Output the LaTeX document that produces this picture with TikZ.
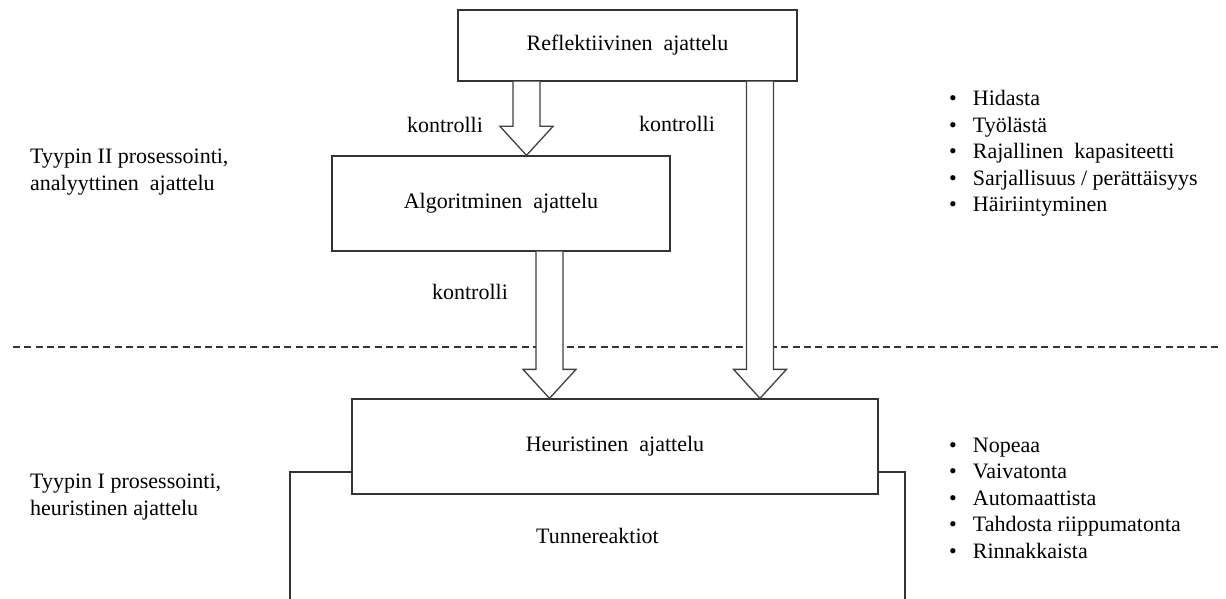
\documentclass[tikz,border=0pt]{standalone}
\usepackage{fontspec}
\setmainfont{Liberation Serif}
\usetikzlibrary{calc}
\begin{document}
\begin{tikzpicture}[x=1pt,y=-1pt,
  every node/.style={font=\fontsize{22}{26.5}\selectfont, inner sep=0pt},
  box/.style={draw=black!80, line width=1.3pt, fill=white},
  lbl/.style={},
  blockarrow/.style={draw=black!75, line width=1.3pt, fill=white, line join=miter,
    to path={let \p1=(\tikztostart), \p2=(\tikztotarget) in
      (\x1-13.5pt,\y1) -- (\x1-13.5pt,\y2+29pt) -- (\x1-26.5pt,\y2+29pt) -- (\x2,\y2)
      -- (\x1+26.5pt,\y2+29pt) -- (\x1+13.5pt,\y2+29pt) -- (\x1+13.5pt,\y1)}},
  dashline/.style={draw=black!80, line width=1.3pt, dash pattern=on 7pt off 4.3pt}]
\useasboundingbox (0,0) rectangle (1226,599);

% dashed separator
\coordinate (dl) at (13,347);
\coordinate (dr) at (1220,347);
\draw[dashline] (dl) -- (dr);

% Tunnereaktiot (open at bottom)
\node[minimum width=615pt, minimum height=127pt] (tunne) at (597.5,535.5) {Tunnereaktiot};
\draw[draw=black!80, line width=1.5pt] (tunne.south west) -- (tunne.north west) -- (tunne.north east) -- (tunne.south east);

% boxes
\node[box, minimum width=339pt, minimum height=71pt] (refl) at (627.5,45.5) {Reflektiivinen\ \ ajattelu};
\node[box, minimum width=338pt, minimum height=95pt] (alg) at (501,203.5) {Algoritminen\ \ ajattelu};
\node[box, minimum width=526pt, minimum height=95pt] (heur) at (615,446.5) {Heuristinen\ \ ajattelu};

% arrow x positions
\coordinate (a1) at (526.5,0);
\coordinate (a2) at (549.5,0);
\coordinate (a3) at (760,0);

\path[blockarrow] (refl.south -| a1) to (alg.north -| a1);
\path[blockarrow] (alg.south -| a2) to (heur.north -| a2);
\path[blockarrow] (refl.south -| a3) to (heur.north -| a3);

% connector labels
\node[lbl] (k1) at (445,125) {kontrolli};
\node[lbl] (k2) at (677,124) {kontrolli};
\node[lbl] (k3) at (470,292) {kontrolli};

% left texts
\node[anchor=west, align=left] (t2) at (30,172) {Tyypin II prosessointi,\\analyyttinen\ \ ajattelu};
\node[anchor=west, align=left] (t1) at (30,497) {Tyypin I prosessointi,\\heuristinen ajattelu};

% bullet lists
\node[anchor=north west, align=left] (l1) at (949,90.5) {%
\textbullet\hspace{16pt}Hidasta\\
\textbullet\hspace{16pt}Työlästä\\
\textbullet\hspace{16pt}Rajallinen\ \ kapasiteetti\\
\textbullet\hspace{16pt}Sarjallisuus / perättäisyys\\
\textbullet\hspace{16pt}Häiriintyminen};
\node[anchor=north west, align=left] (l2) at (949,437.5) {%
\textbullet\hspace{16pt}Nopeaa\\
\textbullet\hspace{16pt}Vaivatonta\\
\textbullet\hspace{16pt}Automaattista\\
\textbullet\hspace{16pt}Tahdosta riippumatonta\\
\textbullet\hspace{16pt}Rinnakkaista};
\end{tikzpicture}
\end{document}
